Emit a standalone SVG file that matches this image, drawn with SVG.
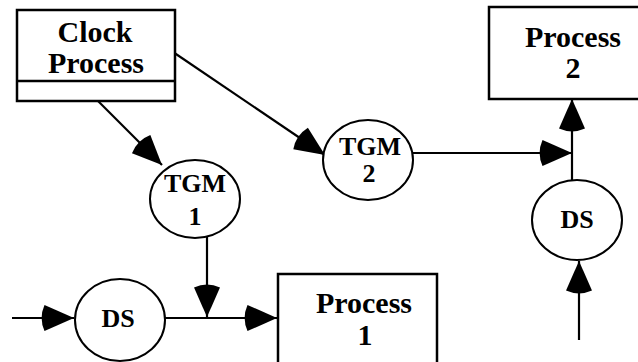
<svg xmlns="http://www.w3.org/2000/svg" width="638" height="362" viewBox="0 0 638 362">
  <style>
    .box { fill: #fff; stroke: #000; stroke-width: 2.5; }
    .bubble { fill: #fff; stroke: #000; stroke-width: 2; }
    .edge { fill: none; stroke: #000; stroke-width: 2.2; marker-end: url(#head); }
    .big { font-family: "Liberation Serif", "Times New Roman", serif; font-weight: bold; font-size: 30px; text-anchor: middle; fill: #000; }
    .small { font-family: "Liberation Serif", "Times New Roman", serif; font-weight: bold; font-size: 26px; text-anchor: middle; fill: #000; }
  </style>
  <defs>
    <!-- pie-slice arrowhead: point at the origin, rounded back -->
    <marker id="head" markerUnits="userSpaceOnUse" orient="auto" refX="0" refY="0" markerWidth="40" markerHeight="40" overflow="visible">
      <path d="M0,0 L-29.5,-13 A32,32 0 0 0 -29.5,13 Z" fill="#000"/>
    </marker>
  </defs>
  <rect width="638" height="362" fill="#fff"/>

  <g id="connectors">
    <line class="edge" x1="98" y1="101" x2="162" y2="165"/>
    <line class="edge" x1="173" y1="52" x2="325" y2="155"/>
    <line class="edge" x1="413" y1="153" x2="572" y2="153"/>
    <line class="edge" x1="572" y1="180" x2="572" y2="99"/>
    <line class="edge" x1="579" y1="340" x2="579" y2="261"/>
    <line class="edge" x1="12" y1="318" x2="74" y2="318"/>
    <line class="edge" x1="165" y1="318" x2="277" y2="318"/>
    <line class="edge" x1="207" y1="235" x2="207" y2="317"/>
  </g>

  <g id="clock-process">
    <rect class="box" x="17" y="10" width="158" height="91"/>
    <line x1="17" y1="81" x2="175" y2="81" stroke="#000" stroke-width="2.5"/>
    <text class="big" x="95" y="42">Clock</text>
    <text class="big" x="96" y="73">Process</text>
  </g>

  <g id="process-2">
    <rect class="box" x="489" y="7" width="170" height="92"/>
    <text class="big" x="573" y="47">Process</text>
    <text class="big" x="573" y="78">2</text>
  </g>

  <g id="process-1">
    <rect class="box" x="278" y="274" width="159" height="100"/>
    <text class="big" x="364" y="313">Process</text>
    <text class="big" x="365" y="345">1</text>
  </g>

  <g id="tgm-1">
    <ellipse class="bubble" cx="195" cy="199" rx="45" ry="39"/>
    <text class="small" x="195" y="192">TGM</text>
    <text class="small" x="195" y="225">1</text>
  </g>

  <g id="tgm-2">
    <ellipse class="bubble" cx="368" cy="160" rx="45" ry="40"/>
    <text class="small" x="370" y="155">TGM</text>
    <text class="small" x="369" y="182">2</text>
  </g>

  <g id="ds-left">
    <ellipse class="bubble" cx="120" cy="320" rx="45" ry="41"/>
    <text class="small" x="118" y="327">DS</text>
  </g>

  <g id="ds-right">
    <ellipse class="bubble" cx="577" cy="220" rx="45" ry="40"/>
    <text class="small" x="577" y="228">DS</text>
  </g>
</svg>
